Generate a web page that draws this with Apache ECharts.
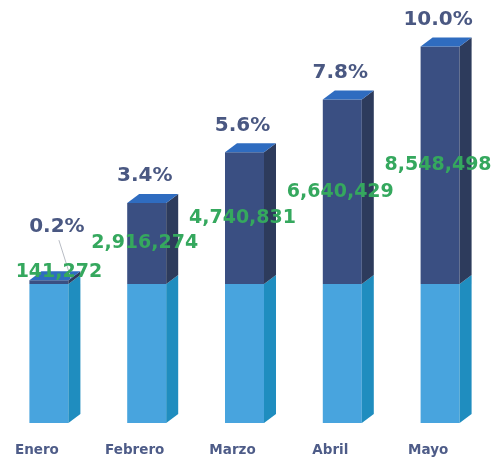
<!DOCTYPE html>
<html>
<head>
<meta charset="utf-8">
<script src="https://cdn.jsdelivr.net/npm/echarts@6/dist/echarts.min.js"></script>
<style>
html,body{margin:0;padding:0;background:#fff;}
#chart{width:493px;height:462px;}
</style>
</head>
<body>
<div id="chart"></div>
<script>
const categories = ['Enero', 'Febrero', 'Marzo', 'Abril', 'Mayo'];
const baseValues = [5000000, 5000000, 5000000, 5000000, 5000000];
const cumulativeValues = [141272, 2916274, 4740831, 6640429, 8548498];
const percentLabels = ['0.2%', '3.4%', '5.6%', '7.8%', '10.0%'];

const chart = echarts.init(document.getElementById('chart'));
const data = categories.map((c, i) => [i, baseValues[i], cumulativeValues[i]]);
const fmt = v => v.toString().replace(/\B(?=(\d{3})+(?!\d))/g, ',');

const W = 39, DX = 12, DY = 9;
const C = {
  lightFront: '#48a4de', lightSide: '#1f8dbf',
  darkFront: '#3a4f82', darkSide: '#2d3b5c', top: '#2f6cc0',
  green: '#35a85e', pct: '#4a5882'
};

function renderItem(params, api) {
  const i = api.value(0), base = api.value(1), val = api.value(2);
  const p0 = api.coord([i, 0]);
  const p1 = api.coord([i, base]);
  const p2 = api.coord([i, base + val]);
  const cx = p0[0], xl = cx - W / 2, xr = cx + W / 2;
  const y0 = p0[1], y1 = p1[1], y2 = p2[1];
  const small = (y1 - y2) < 20;
  const children = [
    {type: 'rect', shape: {x: xl, y: y1, width: W, height: y0 - y1}, style: {fill: C.lightFront}},
    {type: 'polygon', shape: {points: [[xr, y0], [xr + DX, y0 - DY], [xr + DX, y1 - DY], [xr, y1]]}, style: {fill: C.lightSide}},
    {type: 'rect', shape: {x: xl, y: y2, width: W, height: y1 - y2}, style: {fill: C.darkFront}},
    {type: 'polygon', shape: {points: [[xr, y1], [xr + DX, y1 - DY], [xr + DX, y2 - DY], [xr, y2]]}, style: {fill: C.darkSide}},
    {type: 'polygon', shape: {points: [[xl, y2], [xl + DX, y2 - DY], [xr + DX, y2 - DY], [xr, y2]]}, style: {fill: C.top}}
  ];
  const pctY = small ? y2 - 53 : y2 - 27;
  const pctX = small ? cx + 8 : cx - 2;
  if (small) {
    children.push({type: 'line', shape: {x1: pctX + 2, y1: pctY + 13, x2: cx + 22, y2: y2 - 2}, style: {stroke: '#b8bcc4', lineWidth: 1}, z2: 5});
  }
  children.push({
    type: 'text', z2: 10,
    style: {text: percentLabels[i], x: pctX, y: pctY, align: 'center', verticalAlign: 'middle',
      fill: C.pct, font: 'bold 20px "DejaVu Sans"'}
  });
  children.push({
    type: 'text', z2: 11,
    style: {text: fmt(val), x: small ? cx + 10 : cx - 2, y: small ? y2 - 8 : (y1 + y2) / 2,
      align: 'center', verticalAlign: 'middle', fill: C.green, font: 'bold 19px "DejaVu Sans"'}
  });
  return {type: 'group', children};
}

chart.setOption({
  animation: false,
  grid: {left: -1.5, right: 4, top: 34, bottom: 39},
  xAxis: {
    type: 'category', data: categories,
    axisLine: {show: false}, axisTick: {show: false},
    axisLabel: {margin: 20, color: '#4e5c88', fontWeight: 'bold', fontSize: 13.5,
      fontFamily: 'DejaVu Sans', padding: [0, 24, 0, 0]}
  },
  yAxis: {type: 'value', min: 0, max: 14000000, show: false, splitLine: {show: false}},
  series: [{
    type: 'custom', renderItem: renderItem, data: data,
    encode: {x: 0, y: 1}, clip: false
  }]
});
</script>
</body>
</html>
